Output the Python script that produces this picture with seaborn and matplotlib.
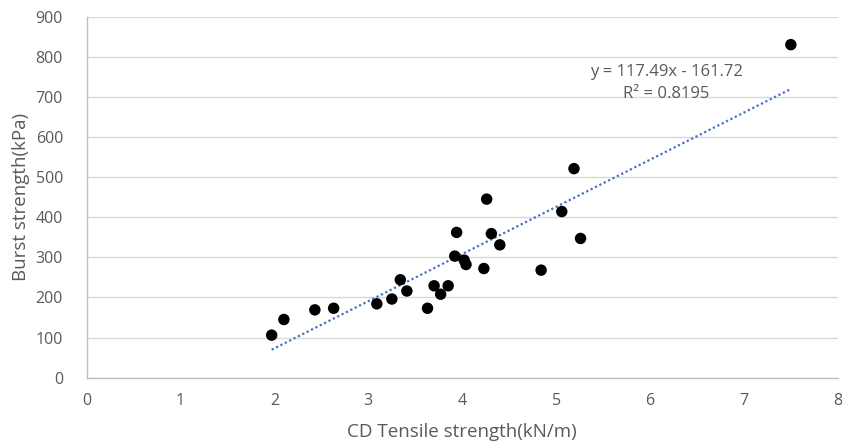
import matplotlib
matplotlib.use("Agg")
import matplotlib.pyplot as plt
import numpy as np
import pandas as pd
import seaborn as sns

# CD tensile strength (kN/m) vs burst strength (kPa)
tensile = [1.97, 2.10, 2.43, 2.63, 3.09, 3.25, 3.34, 3.41, 3.63, 3.70,
           3.77, 3.85, 3.94, 3.92, 4.02, 4.04, 4.23, 4.26, 4.31, 4.40,
           4.84, 5.06, 5.19, 5.26, 7.50]
burst = [106, 145, 169, 173, 184, 196, 244, 216, 173, 229,
         208, 229, 362, 303, 293, 282, 272, 445, 359, 331,
         268, 414, 521, 347, 830]

# linear trendline coefficients and fit quality
slope = 117.49
intercept = -161.72
r_squared = 0.8195

x_ticks = [0, 1, 2, 3, 4, 5, 6, 7, 8]
y_ticks = [0, 100, 200, 300, 400, 500, 600, 700, 800, 900]

sns.set_theme(style="white")
plt.rcParams["font.family"] = ["Open Sans", "DejaVu Sans"]

df = pd.DataFrame({"tensile": tensile, "burst": burst})
x_fit = np.array([min(tensile), max(tensile)])
fit = pd.DataFrame({"x": x_fit, "y": slope * x_fit + intercept})

fig = plt.figure(figsize=(8.42, 4.48), dpi=100)
ax = fig.add_axes([0.103, 0.157, 0.892, 0.806])

grid_c = "#d9d9d9"
text_c = "#595959"

sns.lineplot(data=fit, x="x", y="y", ax=ax, color="#4472c4",
             linewidth=1.6, linestyle=(0, (1, 1.2)), zorder=3)
sns.scatterplot(data=df, x="tensile", y="burst", ax=ax, color="black",
                s=68, edgecolor="none", zorder=4)

ax.set_xlim(0, 8)
ax.set_ylim(0, 900)
ax.set_xticks(x_ticks)
ax.set_yticks(y_ticks)
ax.yaxis.grid(True, color=grid_c, linewidth=1.0)
ax.xaxis.grid(False)
ax.set_axisbelow(True)

for side in ["top", "right"]:
    ax.spines[side].set_visible(False)
for side in ["left", "bottom"]:
    ax.spines[side].set_color("#bfbfbf")
    ax.spines[side].set_linewidth(1.0)

ax.tick_params(axis="both", length=0, labelsize=11.5, colors=text_c)
ax.tick_params(axis="x", pad=11)
ax.tick_params(axis="y", pad=17)

ax.set_xlabel("CD Tensile strength(kN/m)", fontsize=13.5, color=text_c, labelpad=10)
ax.set_ylabel("Burst strength(kPa)", fontsize=13.5, color=text_c, labelpad=4)

ax.text(6.17, 762, f"y = {slope}x - {abs(intercept)}", fontsize=12,
        color=text_c, ha="center", va="center")
ax.text(6.17, 707, f"R² = {r_squared}", fontsize=12,
        color=text_c, ha="center", va="center")

fig.savefig("out.png", dpi=100, facecolor="white")
